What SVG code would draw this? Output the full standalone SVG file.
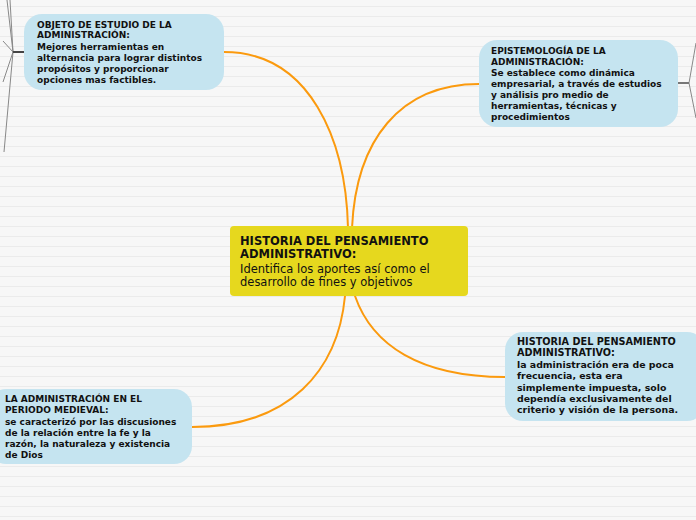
<svg xmlns="http://www.w3.org/2000/svg" width="696" height="520" viewBox="0 0 696 520">
<defs>
<pattern id="bg" width="696" height="10" patternUnits="userSpaceOnUse" y="0">
<rect width="696" height="10" fill="#f7f7f7"/>
<rect y="6" width="696" height="1" fill="#ebebeb"/>
</pattern>
</defs>
<style>
.b{fill:#c5e4f0}
.t{font-family:"DejaVu Sans",Verdana,sans-serif;font-weight:bold;fill:#111}
.h{font-size:9px}
.s{font-size:9px}
.m{font-size:9.4px}
.mh{font-size:9.7px}
.c{fill:none;stroke:#fb9a0e;stroke-width:2;stroke-linecap:round}
.g{fill:none;stroke:#888;stroke-width:1}
.k{fill:none;stroke:#444;stroke-width:2}
</style>
<rect width="696" height="520" fill="url(#bg)"/>
<g id="connectors">
<path class="c" d="M224,52 C310,52 346,140 348,228"/>
<path class="c" d="M479,84 C400,84 356,140 352,228"/>
<path class="c" d="M345,296 C338,370 290,427 192,427"/>
<path class="c" d="M355,296 C372,345 420,377 505,377"/>
<path class="g" d="M13,52 L7,0 M13,52 L10,0 M13,52 L3,41 M13,52 L3,82 M13,52 L4,152"/>
<path class="k" d="M13,52 L24,52"/>
<path class="g" d="M689,83 L696,43 M689,83 L696,118"/>
<path class="k" d="M678,83 L689,83" style="stroke:#777"/>
</g>
<g id="center">
<rect x="230" y="226" width="238" height="70" rx="4" fill="#e6d81e"/>
<text class="t" x="240" y="245" font-size="11.5">HISTORIA DEL PENSAMIENTO</text>
<text class="t" x="240" y="257.5" font-size="11.5">ADMINISTRATIVO:</text>
<text x="240" y="273" font-size="11.5" font-family="'DejaVu Sans',Verdana,sans-serif" fill="#111">Identifica los aportes así como el</text>
<text x="240" y="285.5" font-size="11.5" font-family="'DejaVu Sans',Verdana,sans-serif" fill="#111">desarrollo de fines y objetivos</text>
</g>
<g id="objeto">
<rect class="b" x="24" y="14" width="200" height="76" rx="18"/>
<text class="t h" x="37" y="28">OBJETO DE ESTUDIO DE LA</text>
<text class="t h" x="37" y="38.3">ADMINISTRACIÓN:</text>
<text class="t s" x="37" y="49.5">Mejores herramientas en</text>
<text class="t s" x="37" y="60.7">alternancia para lograr distintos</text>
<text class="t s" x="37" y="71.7">propósitos y proporcionar</text>
<text class="t s" x="37" y="82.7">opciones mas factibles.</text>
</g>
<g id="epistemologia">
<rect class="b" x="479" y="40" width="199" height="87" rx="18"/>
<text class="t h" x="491" y="54">EPISTEMOLOGÍA DE LA</text>
<text class="t h" x="491" y="64.7">ADMINISTRACIÓN:</text>
<text class="t s" x="491" y="76.3">Se establece como dinámica</text>
<text class="t s" x="491" y="87.3">empresarial, a través de estudios</text>
<text class="t s" x="491" y="98.3">y análisis pro medio de</text>
<text class="t s" x="491" y="109.3">herramientas, técnicas y</text>
<text class="t s" x="491" y="120">procedimientos</text>
</g>
<g id="historia">
<rect class="b" x="505" y="332" width="200" height="89" rx="18"/>
<text class="t mh" x="517" y="345">HISTORIA DEL PENSAMIENTO</text>
<text class="t mh" x="517" y="356">ADMINISTRATIVO:</text>
<text class="t m" x="517" y="368">la administración era de poca</text>
<text class="t m" x="517" y="379.3">frecuencia, esta era</text>
<text class="t m" x="517" y="390.6">simplemente impuesta, solo</text>
<text class="t m" x="517" y="401.9">dependía exclusivamente del</text>
<text class="t m" x="517" y="413">criterio y visión de la persona.</text>
</g>
<g id="medieval">
<rect class="b" x="-12" y="389" width="204" height="75" rx="18"/>
<text class="t h" x="5" y="402">LA ADMINISTRACIÓN EN EL</text>
<text class="t h" x="5" y="413">PERIODO MEDIEVAL:</text>
<text class="t s" x="5" y="425">se caracterizó por las discusiones</text>
<text class="t s" x="5" y="436">de la relación entre la fe y la</text>
<text class="t s" x="5" y="447">razón, la naturaleza y existencia</text>
<text class="t s" x="5" y="458">de Dios</text>
</g>
</svg>
